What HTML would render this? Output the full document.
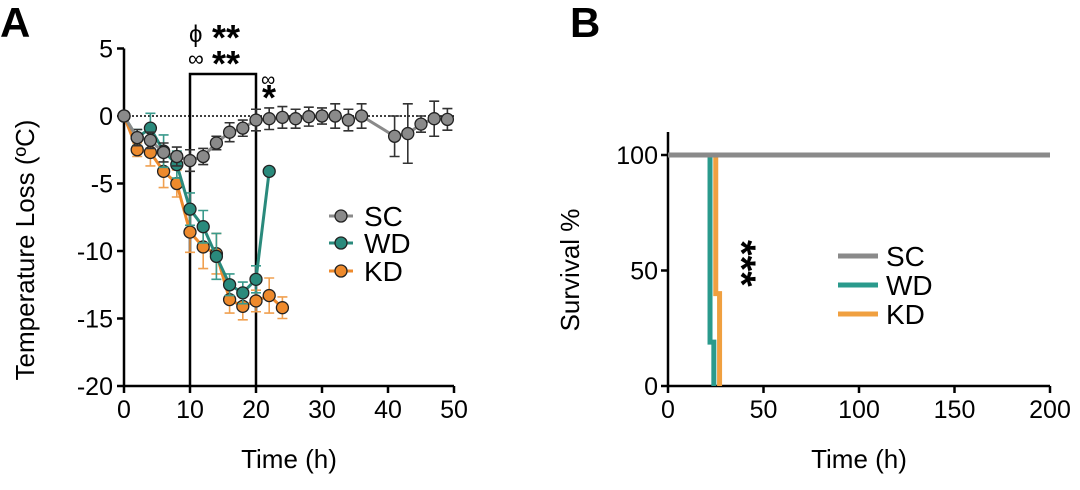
<!DOCTYPE html>
<html><head><meta charset="utf-8"><style>
body{margin:0;background:#fff;}
svg{font-family:"Liberation Sans",Arial,sans-serif;}
</style></head><body>
<svg id="c" width="1080" height="485" viewBox="0 0 1080 485" xmlns="http://www.w3.org/2000/svg">
<g id="A"></g>
<g id="B"></g>
</svg>
<script>
// Panel A data
const timeSC = [0,2,4,6,8,10,12,14,16,18,20,22,24,26,28,30,32,34,36,41,43,45,47,49];
const valSC = [0,-1.6,-1.8,-2.7,-3.0,-3.3,-3.0,-2.0,-1.2,-0.9,-0.3,-0.2,-0.1,-0.2,-0.05,0,0,-0.3,0,-1.5,-1.3,-0.6,-0.2,-0.25];
const errSC = [0,0.6,0.6,0.7,0.7,0.8,0.6,0.5,0.7,0.6,0.8,0.8,0.8,0.7,0.7,0.6,0.9,0.8,0.9,1.5,2.2,0.6,1.3,0.8];
const timeWD = [0,2,4,6,8,10,12,14,16,18,20,22];
const valWD = [0,-1.6,-0.9,-2.6,-3.6,-6.9,-8.2,-10.4,-12.5,-13.1,-12.1,-4.1];
const errWD = [0,0.6,1.1,1.2,1.0,1.2,1.2,1.7,0.8,0.8,1.0,0];
const timeKD = [0,2,4,6,8,10,12,14,16,18,20,22,24];
const valKD = [0,-2.5,-2.7,-4.1,-5.0,-8.6,-9.7,-10.2,-13.6,-14.1,-13.7,-13.3,-14.2];
const errKD = [0,0.5,1.0,1.2,1.0,1.5,1.6,1.5,1.0,1.0,0.8,1.3,0.8];
const yTicksA = [5,0,-5,-10,-15,-20];
const xTicksA = [0,10,20,30,40,50];
// Panel B data
const survSC_t = [0,200]; const survSC_v = [100,100];
const survWD_t = [22,22,24,24]; const survWD_v = [100,19,19,0];
const survKD_t = [25,25,27,27]; const survKD_v = [100,40,40,0];
const yTicksB = [0,50,100];
const xTicksB = [0,50,100,150,200];

const NS="http://www.w3.org/2000/svg";
function mk(parent,tag,attrs,name,text){
  const e=document.createElementNS(NS,tag);
  for(const k in attrs) e.setAttribute(k,attrs[k]);
  
  
  if(text!==undefined) e.textContent=text;
  parent.appendChild(e); return e;
}
const A=document.getElementById('A'), B=document.getElementById('B');
const ax=t=>124+t*6.6, ay=v=>116+(-v)*13.5;
mk(A,'line',{x1:ax(0),y1:ay(5),x2:ax(0),y2:ay(-20),stroke:'#000','stroke-width':2.5},'y-axis');
mk(A,'line',{x1:ax(0),y1:ay(-20),x2:ax(50),y2:ay(-20),stroke:'#000','stroke-width':2.5},'x-axis');
yTicksA.forEach(v=>{
  mk(A,'line',{x1:ax(0)-7,y1:ay(v),x2:ax(0),y2:ay(v),stroke:'#000','stroke-width':2.5},'y-tick');
  mk(A,'text',{x:ax(0)-11,y:ay(v)+9,'text-anchor':'end','font-size':25},'y-tick-label',v);
});
xTicksA.forEach(v=>{
  mk(A,'line',{x1:ax(v),y1:ay(-20),x2:ax(v),y2:ay(-20)+7,stroke:'#000','stroke-width':2.5},'x-tick');
  mk(A,'text',{x:ax(v),y:ay(-20)+32,'text-anchor':'middle','font-size':25},'x-tick-label',v);
});
mk(A,'text',{x:ax(25),y:468,'text-anchor':'middle','font-size':26},'x-axis-title','Time (h)');
mk(A,'text',{x:0,y:0,transform:'translate(34,250) rotate(-90)','text-anchor':'middle','font-size':26},'y-axis-title','Temperature Loss (ºC)');
mk(A,'text',{x:0,y:37,'font-size':42,'font-weight':'bold'},'panel-label-a','A');
mk(A,'line',{x1:ax(0),y1:ay(0),x2:ax(50),y2:ay(0),stroke:'#000','stroke-width':1.5,'stroke-dasharray':'2,2'},'zero-line');
mk(A,'path',{d:`M${ax(10)},${ay(-20)}V74H${ax(20)}V${ay(-20)}`,fill:'none',stroke:'#000','stroke-width':2.5},'significance-box');
mk(A,'text',{x:189,y:42,'font-size':24},'sig-phi','ϕ');
mk(A,'text',{x:212,y:50,'font-size':36,'font-weight':'bold'},'sig-stars-1','**');
mk(A,'text',{x:188,y:66,'font-size':22},'sig-inf','∞');
mk(A,'text',{x:212,y:76,'font-size':36,'font-weight':'bold'},'sig-stars-2','**');
mk(A,'text',{x:261,y:86,'font-size':20},'sig-inf-2','∞');
mk(A,'text',{x:262,y:110,'font-size':36,'font-weight':'bold'},'sig-star-3','*');
function series(t,v,e,col,ecol,name){
  const g=mk(A,'g',{},name+'-series');
  t.forEach((tt,i)=>{ if(e[i]>0){
    const x=ax(tt),y1=ay(v[i]+e[i]),y2=ay(v[i]-e[i]);
    mk(g,'path',{d:`M${x},${y1}V${y2}M${x-5},${y1}H${x+5}M${x-5},${y2}H${x+5}`,stroke:ecol,'stroke-width':1.6,fill:'none'},name+'-error-bar');
  }});
  mk(g,'polyline',{points:t.map((tt,i)=>ax(tt)+','+ay(v[i])).join(' '),fill:'none',stroke:col,'stroke-width':3},name+'-line');
  t.forEach((tt,i)=>mk(g,'circle',{cx:ax(tt),cy:ay(v[i]),r:6,fill:col,stroke:'#222','stroke-width':1.3},name+'-point'));
}
series(timeKD,valKD,errKD,'#ee8a2c','#f0a050','kd');
series(timeWD,valWD,errWD,'#2a8a7c','#3a9a8c','wd');
series(timeSC,valSC,errSC,'#8a8a8a','#333','sc');
[['SC','#8a8a8a',216],['WD','#2a8a7c',243],['KD','#ee8a2c',271]].forEach(([n,c,y])=>{
  const g=mk(A,'g',{},'legend-entry-'+n.toLowerCase());
  mk(g,'line',{x1:329,y1:y,x2:353,y2:y,stroke:c,'stroke-width':3},'legend-line');
  mk(g,'circle',{cx:341,cy:y,r:6,fill:c,stroke:'#222','stroke-width':1.3},'legend-marker');
  mk(g,'text',{x:364,y:y+10,'font-size':28},'legend-label',n);
});
// Panel B
const bx=t=>668+t*1.91, by=v=>386-v*2.31;
mk(B,'text',{x:570,y:37,'font-size':42,'font-weight':'bold'},'panel-label-b','B');
mk(B,'line',{x1:bx(0),y1:132,x2:bx(0),y2:by(0),stroke:'#000','stroke-width':2.5},'y-axis');
mk(B,'line',{x1:bx(0),y1:by(0),x2:bx(200),y2:by(0),stroke:'#000','stroke-width':2.5},'x-axis');
yTicksB.forEach(v=>{
  mk(B,'line',{x1:bx(0)-7,y1:by(v),x2:bx(0),y2:by(v),stroke:'#000','stroke-width':2.5},'y-tick');
  mk(B,'text',{x:bx(0)-10,y:by(v)+9,'text-anchor':'end','font-size':25},'y-tick-label',v);
});
xTicksB.forEach(v=>{
  mk(B,'line',{x1:bx(v),y1:by(0),x2:bx(v),y2:by(0)+7,stroke:'#000','stroke-width':2.5},'x-tick');
  mk(B,'text',{x:bx(v),y:by(0)+32,'text-anchor':'middle','font-size':25},'x-tick-label',v);
});
mk(B,'text',{x:bx(100),y:468,'text-anchor':'middle','font-size':26},'x-axis-title','Time (h)');
mk(B,'text',{x:0,y:0,transform:'translate(579,270) rotate(-90)','text-anchor':'middle','font-size':26},'y-axis-title','Survival %');
function step(t,v,c,name){mk(B,'polyline',{points:t.map((tt,i)=>bx(tt)+','+by(v[i])).join(' '),fill:'none',stroke:c,'stroke-width':5},name);}
step(survKD_t,survKD_v,'#f0a040','kd-survival-line');
step(survWD_t,survWD_v,'#2a9a8c','wd-survival-line');
step(survSC_t,survSC_v,'#8a8a8a','sc-survival-line');
mk(B,'text',{x:0,y:0,transform:'translate(728,240) rotate(90)','font-size':40,'font-weight':'bold'},'sig-stars-b','***');
[['SC','#8a8a8a',256],['WD','#2a9a8c',285],['KD','#f0a040',314]].forEach(([n,c,y])=>{
  const g=mk(B,'g',{},'legend-entry-'+n.toLowerCase());
  mk(g,'line',{x1:838,y1:y,x2:878,y2:y,stroke:c,'stroke-width':5},'legend-line');
  mk(g,'text',{x:886,y:y+10,'font-size':28},'legend-label',n);
});
</script>
</body></html>
